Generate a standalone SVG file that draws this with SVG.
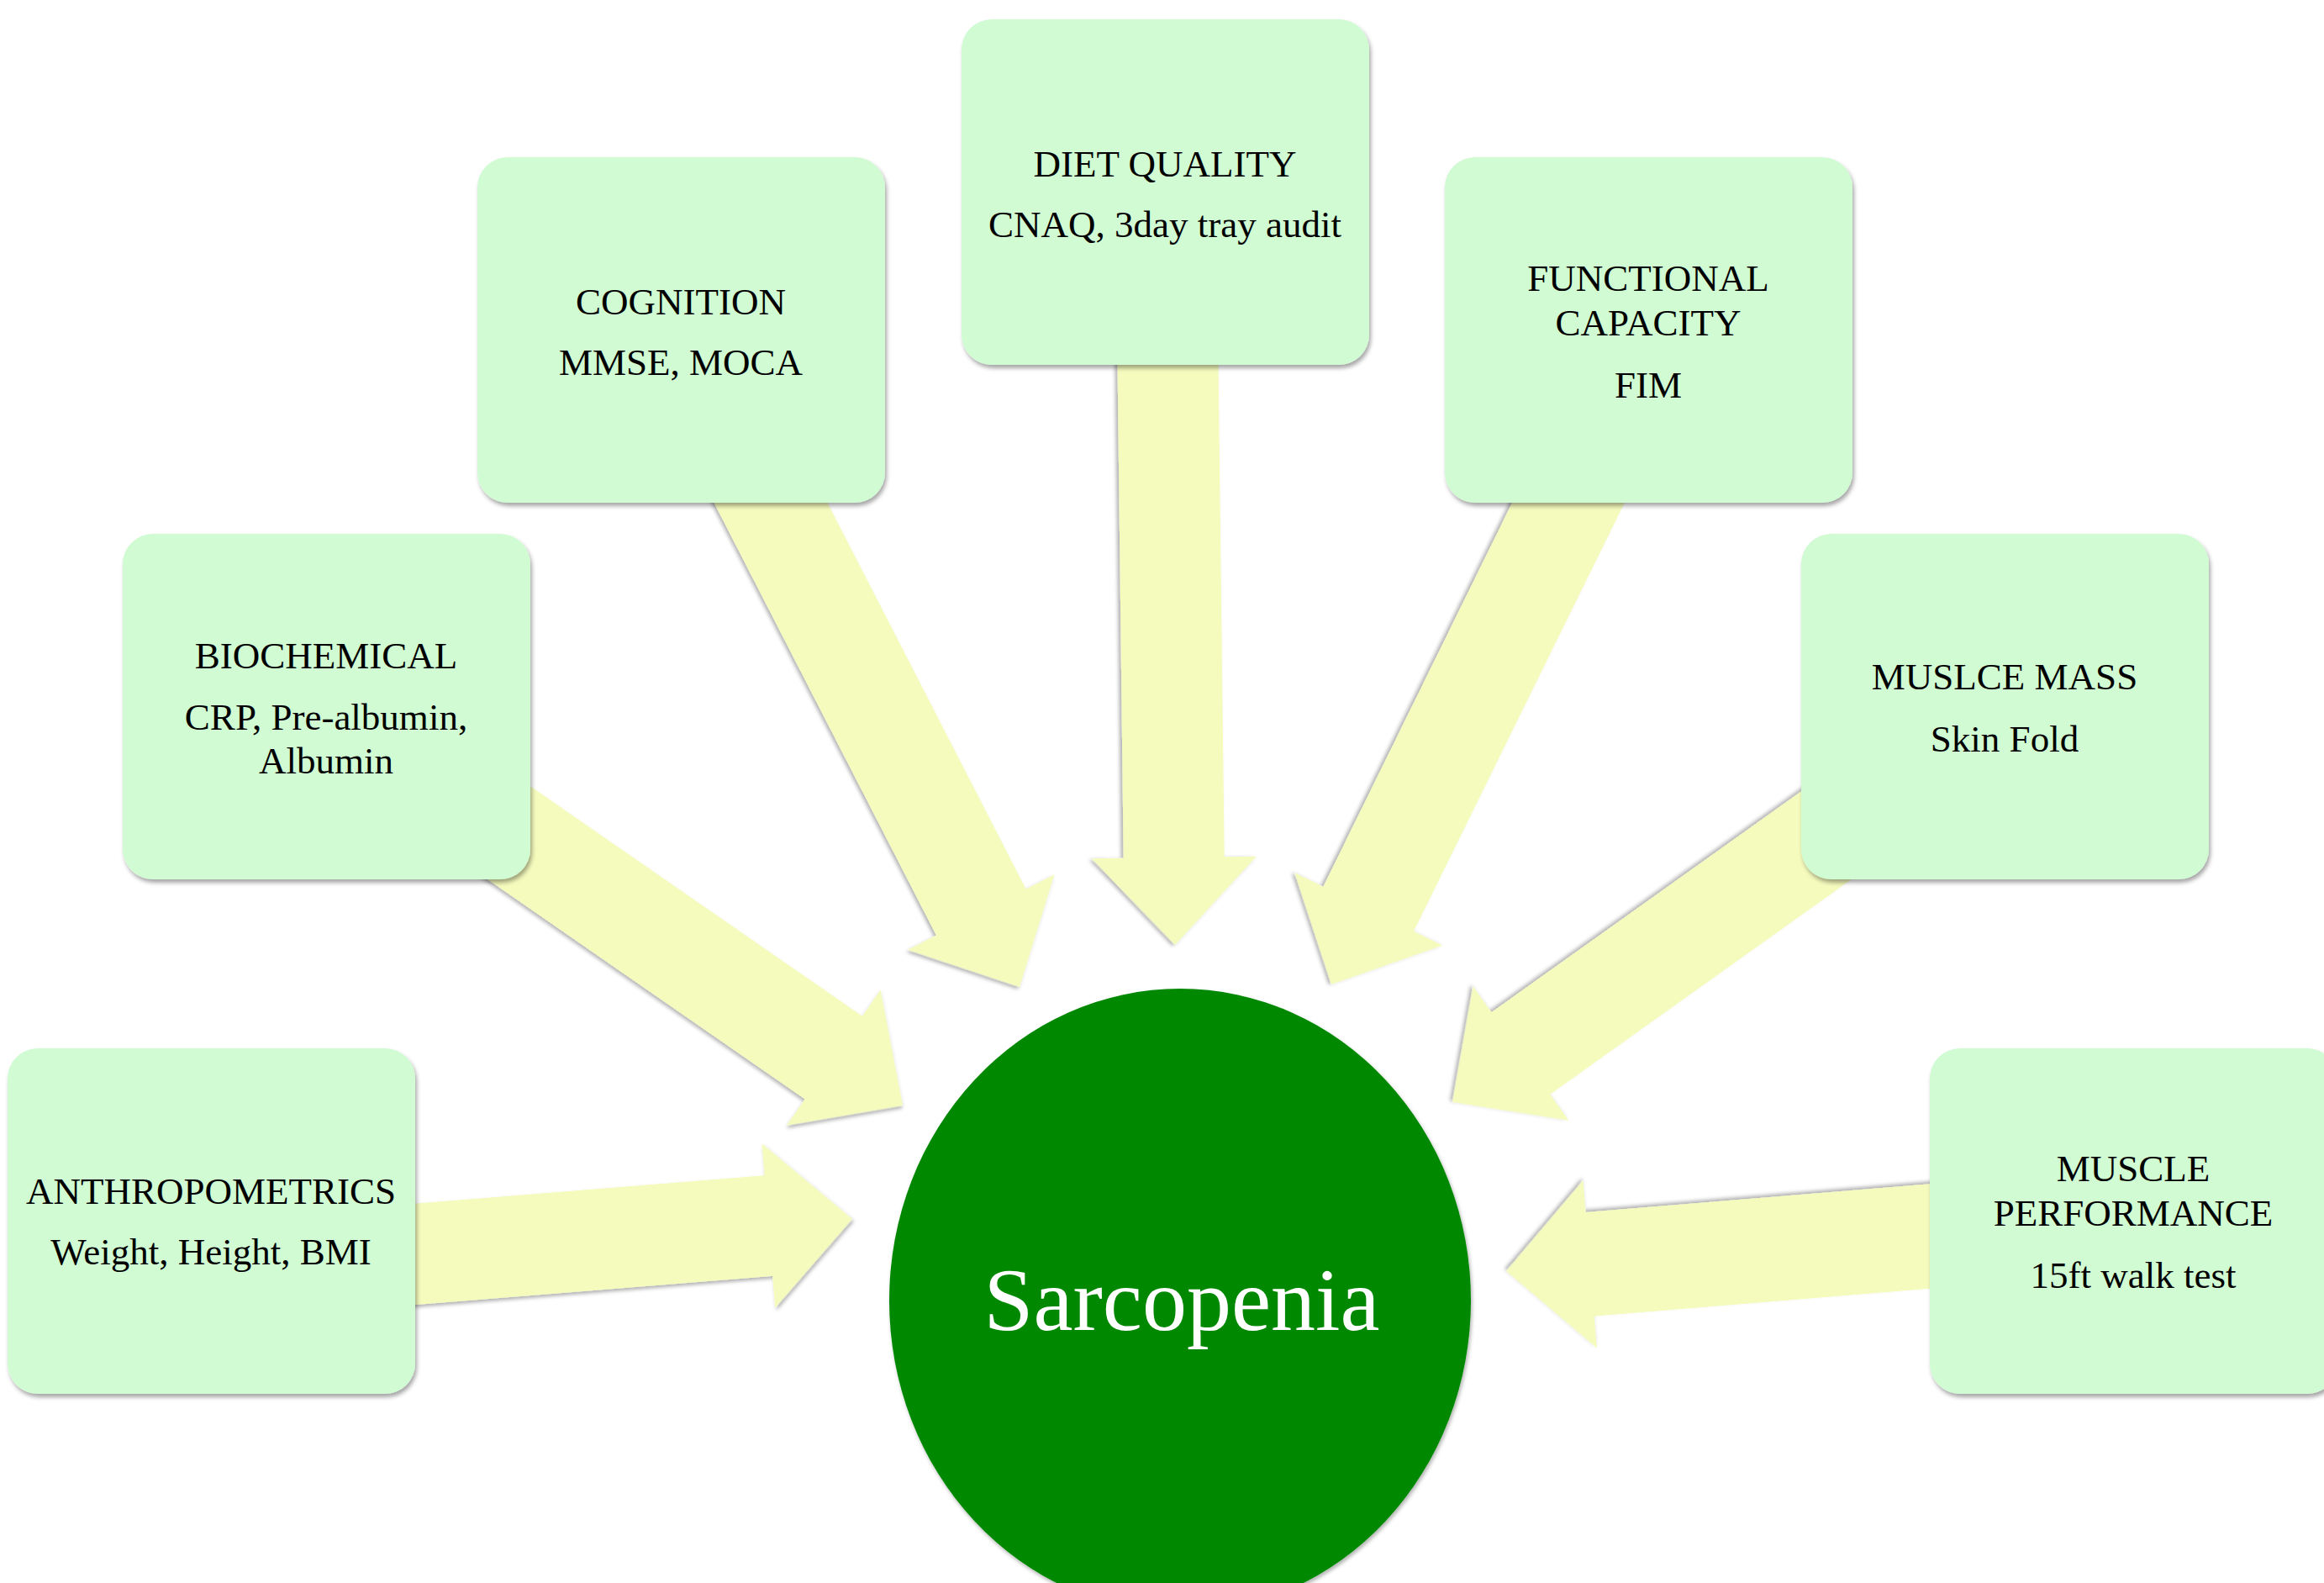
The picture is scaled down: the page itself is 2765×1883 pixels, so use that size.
<svg xmlns="http://www.w3.org/2000/svg" width="2765" height="1883" viewBox="0 0 2765 1883">
  <defs>
    <filter id="shadow" x="-10%" y="-10%" width="120%" height="120%">
      <feDropShadow dx="2" dy="4" stdDeviation="2.5" flood-color="#000" flood-opacity="0.35"/>
    </filter>
    <filter id="ashadow" x="-10%" y="-10%" width="120%" height="120%">
      <feDropShadow dx="1.5" dy="3" stdDeviation="2" flood-color="#000" flood-opacity="0.3"/>
    </filter>
  </defs>
  <style>
    .box { fill: #D0FBD3; filter: url(#shadow); }
    .arrow { fill: #F4FBBC; filter: url(#ashadow); }
    .lbl { font-family: "Liberation Serif", "Times New Roman", serif; font-size: 45px; fill: #000; text-anchor: middle; }
    .hub { font-family: "Liberation Serif", "Times New Roman", serif; font-size: 106px; fill: #fff; text-anchor: middle; }
  </style>
  <rect width="2765" height="1883" fill="#fff"/>

  <g id="connectors">
    <polygon class="arrow" transform="translate(1014,1450) rotate(-4.6)" points="-770,-60 -100,-60 -100,-98 0,0 -100,98 -100,60 -770,60"/>
    <polygon class="arrow" transform="translate(1074,1315) rotate(34.7)" points="-834,-60 -100,-60 -100,-98 0,0 -100,98 -100,60 -834,60"/>
    <polygon class="arrow" transform="translate(1213,1174) rotate(62.8)" points="-880,-60 -100,-60 -100,-98 0,0 -100,98 -100,60 -880,60"/>
    <polygon class="arrow" transform="translate(1398,1124) rotate(89.3)" points="-896,-60 -104,-60 -104,-98 0,0 -104,98 -104,60 -896,60"/>
    <polygon class="arrow" transform="translate(1584,1171) rotate(116.2)" points="-865,-60 -100,-60 -100,-98 0,0 -100,98 -100,60 -865,60"/>
    <polygon class="arrow" transform="translate(1728,1311) rotate(144.5)" points="-808,-60 -100,-60 -100,-98 0,0 -100,98 -100,60 -808,60"/>
    <polygon class="arrow" transform="translate(1792,1512) rotate(175.3)" points="-748,-62 -100,-62 -100,-100 0,0 -100,100 -100,62 -748,62"/>
  </g>

  <g id="node-anthropometrics">
    <rect class="box" x="9" y="1247" width="485" height="411" rx="36" ry="36"/>
    <text class="lbl" x="251" y="1432">ANTHROPOMETRICS</text>
    <text class="lbl" x="251" y="1504">Weight, Height, BMI</text>
  </g>

  <g id="node-biochemical">
    <rect class="box" x="146" y="635" width="485" height="411" rx="36" ry="36"/>
    <text class="lbl" x="388" y="795">BIOCHEMICAL</text>
    <text class="lbl" x="388" y="868">CRP, Pre-albumin,</text>
    <text class="lbl" x="388" y="920">Albumin</text>
  </g>

  <g id="node-cognition">
    <rect class="box" x="568" y="187" width="485" height="411" rx="36" ry="36"/>
    <text class="lbl" x="810" y="374">COGNITION</text>
    <text class="lbl" x="810" y="446">MMSE, MOCA</text>
  </g>

  <g id="node-diet-quality">
    <rect class="box" x="1144" y="23" width="485" height="411" rx="36" ry="36"/>
    <text class="lbl" x="1386" y="210">DIET QUALITY</text>
    <text class="lbl" x="1386" y="282">CNAQ, 3day tray audit</text>
  </g>

  <g id="node-functional-capacity">
    <rect class="box" x="1719" y="187" width="485" height="411" rx="36" ry="36"/>
    <text class="lbl" x="1961" y="346">FUNCTIONAL</text>
    <text class="lbl" x="1961" y="399">CAPACITY</text>
    <text class="lbl" x="1961" y="473">FIM</text>
  </g>

  <g id="node-muscle-mass">
    <rect class="box" x="2143" y="635" width="485" height="411" rx="36" ry="36"/>
    <text class="lbl" x="2385" y="820">MUSLCE MASS</text>
    <text class="lbl" x="2385" y="894">Skin Fold</text>
  </g>

  <g id="node-muscle-performance">
    <rect class="box" x="2296" y="1247" width="485" height="411" rx="36" ry="36"/>
    <text class="lbl" x="2538" y="1405">MUSCLE</text>
    <text class="lbl" x="2538" y="1458">PERFORMANCE</text>
    <text class="lbl" x="2538" y="1532">15ft walk test</text>
  </g>

  <g id="node-sarcopenia">
    <ellipse cx="1404" cy="1547" rx="346" ry="371" fill="#008800" filter="url(#ashadow)"/>
    <text class="hub" x="1406" y="1582">Sarcopenia</text>
  </g>
</svg>
